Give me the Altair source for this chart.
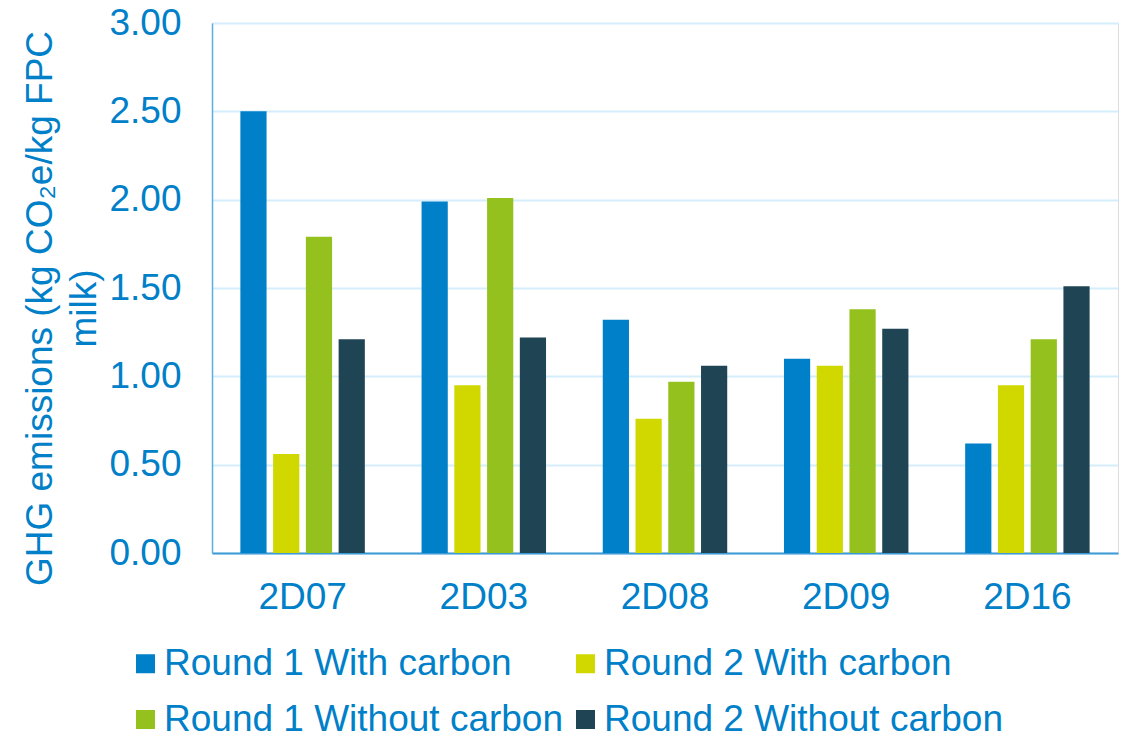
import altair as alt
import pandas as pd

farms = ["2D07", "2D03", "2D08", "2D09", "2D16"]
series = ["Round 1 With carbon", "Round 2 With carbon",
          "Round 1 Without carbon", "Round 2 Without carbon"]
r1_with = [2.50, 1.99, 1.32, 1.10, 0.62]
r2_with = [0.56, 0.95, 0.76, 1.06, 0.95]
r1_without = [1.79, 2.01, 0.97, 1.38, 1.21]
r2_without = [1.21, 1.22, 1.06, 1.27, 1.51]
colors = ["#0080C8", "#D0D800", "#95C11F", "#1F4554"]
y_ticks = [0, 0.5, 1.0, 1.5, 2.0, 2.5, 3.0]

rows = []
for name, vals in zip(series, [r1_with, r2_with, r1_without, r2_without]):
    for f, v in zip(farms, vals):
        rows.append({"farm": f, "series": name, "value": v})
df = pd.DataFrame(rows)

TXT = "#0080C8"
FONT = "Liberation Sans"

chart = alt.Chart(df).mark_bar().encode(
    x=alt.X("farm:N", sort=farms,
            scale=alt.Scale(paddingInner=0.277, paddingOuter=0.1385),
            axis=alt.Axis(title=None, labelAngle=0, ticks=False,
                          labelFontSize=37, labelColor=TXT, labelFont=FONT,
                          labelPadding=26, domainColor="#3D9AD6",
                          domainWidth=2)),
    xOffset=alt.XOffset("series:N", sort=series,
                        scale=alt.Scale(paddingInner=0.2, paddingOuter=0.1)),
    y=alt.Y("value:Q", scale=alt.Scale(domain=[0, 3], nice=False),
            axis=alt.Axis(values=y_ticks, format=".2f", ticks=False,
                          labelFontSize=37, labelColor=TXT, labelFont=FONT,
                          labelPadding=31, domainColor="#5AAEE0",
                          domainWidth=1.5, gridColor="#D6EEFB", gridWidth=2,
                          title=["GHG emissions (kg CO₂e/kg FPC", "milk)"],
                          titleFontSize=37, titleFontWeight="normal",
                          titleColor=TXT, titleFont=FONT, titleAngle=270,
                          titleAlign="center", titleBaseline="alphabetic",
                          titleLineHeight=44, titleX=-161, titleY=285)),
    color=alt.Color("series:N", sort=series,
                    scale=alt.Scale(domain=series, range=colors),
                    legend=alt.Legend(title=None, orient="none",
                                      direction="horizontal",
                                      legendX=-85, legendY=622, columns=2,
                                      symbolType="square", symbolSize=361,
                                      symbolStrokeWidth=0, labelFontSize=37,
                                      labelColor=TXT, labelFont=FONT,
                                      labelOffset=0, rowPadding=18,
                                      columnPadding=3, labelLimit=800)),
).properties(
    width=906, height=530,
    autosize=alt.AutoSizeParams(type="none"),
    padding={"left": 212, "top": 23, "right": 4, "bottom": 184},
).configure_view(stroke=None).configure(background="white")

chart.save("out.html", embed_options={"renderer": "svg", "actions": False})
